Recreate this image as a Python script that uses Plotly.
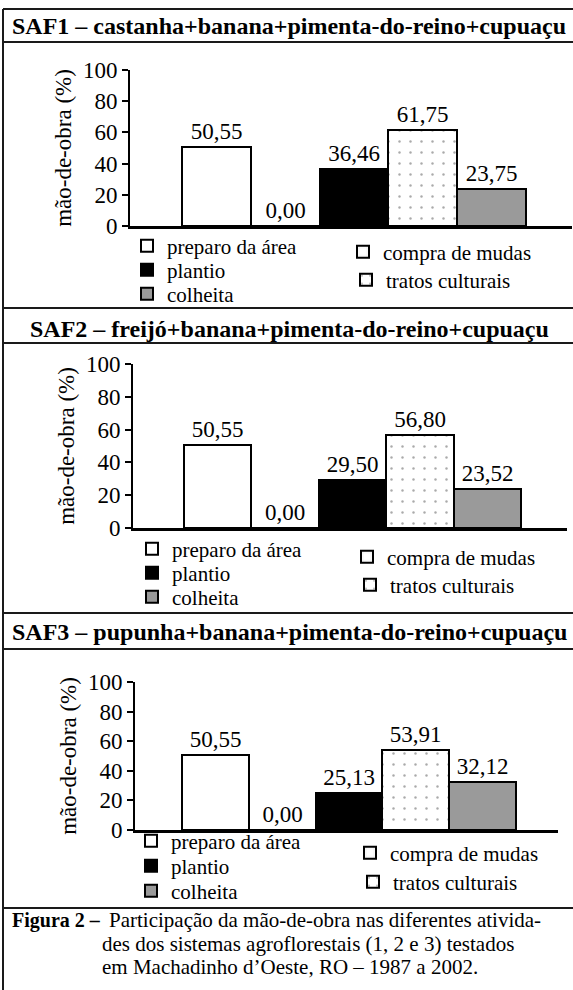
import plotly.graph_objects as go

# ---------------- data ----------------
activities = ["preparo da área", "compra de mudas", "plantio", "tratos culturais", "colheita"]
saf_titles = [
    "SAF1 – castanha+banana+pimenta-do-reino+cupuaçu",
    "SAF2 – freijó+banana+pimenta-do-reino+cupuaçu",
    "SAF3 – pupunha+banana+pimenta-do-reino+cupuaçu",
]
saf1_values = [50.55, 0.00, 36.46, 61.75, 23.75]
saf2_values = [50.55, 0.00, 29.50, 56.80, 23.52]
saf3_values = [50.55, 0.00, 25.13, 53.91, 32.12]
y_tick_values = [0, 20, 40, 60, 80, 100]
y_title = "mão-de-obra (%)"
caption_lead = "Figura 2 –"
caption_lines = [
    "Participação da mão-de-obra nas diferentes ativida-",
    "des dos sistemas agroflorestais (1, 2 e 3) testados",
    "em Machadinho d’Oeste, RO – 1987 a 2002.",
]

# ---------------- styles ----------------
W, H = 573, 990
FONT = "Liberation Serif"
styles = {
    "preparo da área": dict(color="white", pattern=dict(shape="")),
    "compra de mudas": dict(color="white", pattern=dict(shape="+", fgcolor="#999", bgcolor="white", size=12, solidity=0.06)),
    "plantio": dict(color="black", pattern=dict(shape="")),
    "tratos culturais": dict(color="white", pattern=dict(shape=".", fgcolor="#555", bgcolor="white", size=11, solidity=0.04)),
    "colheita": dict(color="#9a9a9a", pattern=dict(shape="")),
}

def px(x):
    return x / W

def py(y):
    return 1 - y / H

# panel geometry in pixels; legend entries: text-left x, centre y
panels = [
    dict(x0=130, x1=572, ytop=70, ybot=226, bl=182, br=526, title_y=26,
         leg={"preparo da área": (167, 246), "plantio": (167, 270), "colheita": (167, 294),
              "compra de mudas": (383, 252), "tratos culturais": (386, 280)}),
    dict(x0=133, x1=567, ytop=364, ybot=528, bl=184, br=521, title_y=329,
         leg={"preparo da área": (172, 549), "plantio": (172, 573), "colheita": (172, 597),
              "compra de mudas": (387, 557), "tratos culturais": (390, 585)}),
    dict(x0=135, x1=558, ytop=682, ybot=830, bl=182, br=516, title_y=632,
         leg={"preparo da área": (171, 841), "plantio": (171, 866), "colheita": (171, 891),
              "compra de mudas": (390, 853), "tratos culturais": (393, 882)}),
]
series = [saf1_values, saf2_values, saf3_values]

fig = go.Figure()
layout_updates = {}
legend_idx = 0
for i, (p, vals) in enumerate(zip(panels, series)):
    ax = "" if i == 0 else str(i + 1)
    for act, v in zip(activities, vals):
        st = styles[act]
        legend_idx += 1
        lname = "legend" if legend_idx == 1 else f"legend{legend_idx}"
        fig.add_trace(go.Bar(
            x=[act], y=[v], name=act,
            xaxis="x" + ax, yaxis="y" + ax,
            marker=dict(color=st["color"], pattern=st["pattern"],
                        line=dict(color="black", width=2)),
            texttemplate="%{y:.2f}", textposition="outside",
            textfont=dict(family=FONT, size=23, color="black"),
            cliponaxis=False,
            legend=lname, showlegend=True,
        ))
        lx, ly = p["leg"][act]
        layout_updates[lname] = dict(
            x=px(lx - 40), y=py(ly), xanchor="left", yanchor="middle",
            orientation="v", bgcolor="rgba(0,0,0,0)", borderwidth=0,
            font=dict(family=FONT, size=21, color="black"),
        )
    unit = (p["br"] - p["bl"]) / 5.0
    xr0 = -0.5 - (p["bl"] - p["x0"]) / unit
    xr1 = 4.5 + (p["x1"] - p["br"]) / unit
    layout_updates["xaxis" + ax] = dict(
        domain=[px(p["x0"]), px(p["x1"])], anchor="y" + ax,
        type="category", categoryorder="array", categoryarray=activities,
        range=[xr0, xr1], showticklabels=False, ticks="",
        showline=True, linecolor="black", linewidth=2.5, showgrid=False, zeroline=False,
        fixedrange=True, automargin=False,
    )
    layout_updates["yaxis" + ax] = dict(
        domain=[py(p["ybot"]), py(p["ytop"])], anchor="x" + ax,
        range=[0, 100], tickvals=y_tick_values,
        ticks="outside", ticklen=6, tickwidth=2, tickcolor="black",
        showline=True, linecolor="black", linewidth=2, showgrid=False, zeroline=False,
        tickfont=dict(family=FONT, size=23, color="black"),
        title=dict(text=y_title, font=dict(family=FONT, size=23, color="black"), standoff=5),
        fixedrange=True, automargin=False,
    )

annotations = []
for p, t in zip(panels, saf_titles):
    annotations.append(dict(
        text="<b>" + t + "</b>", x=px(289), y=py(p["title_y"]), xref="paper", yref="paper",
        xanchor="center", yanchor="middle", showarrow=False,
        font=dict(family=FONT, size=24, color="black"),
    ))
annotations.append(dict(
    text="<b>" + caption_lead + "</b>", x=px(10), y=py(920), xref="paper", yref="paper",
    xanchor="left", yanchor="middle", showarrow=False,
    font=dict(family=FONT, size=20, color="black"),
))
cap_pos = [(107, 920), (100, 943.5), (100, 967)]
for (cx, cy), line in zip(cap_pos, caption_lines):
    annotations.append(dict(
        text=line, x=px(cx), y=py(cy), xref="paper", yref="paper",
        xanchor="left", yanchor="middle", showarrow=False,
        font=dict(family=FONT, size=21, color="black"),
    ))

shapes = []
def hline(y):
    shapes.append(dict(type="line", xref="paper", yref="paper", x0=px(3), x1=1, y0=py(y), y1=py(y),
                       line=dict(color="#1a1a1a", width=2)))
for y in [9, 42, 308, 343, 613, 649, 908]:
    hline(y)
shapes.append(dict(type="line", xref="paper", yref="paper", x0=px(3), x1=px(3), y0=py(9), y1=0,
                   line=dict(color="#1a1a1a", width=2)))

fig.update_layout(
    width=W, height=H, margin=dict(l=0, r=0, t=0, b=0, pad=0, autoexpand=False),
    paper_bgcolor="white", plot_bgcolor="white",
    barmode="overlay", bargap=0,
    separators=",.",
    font=dict(family=FONT, size=20, color="black"),
    annotations=annotations, shapes=shapes,
    **layout_updates,
)

fig.write_html(
    "out.html",
    config={"displayModeBar": False},
    post_script="document.body.style.margin='0';document.body.style.overflow='hidden';",
)
